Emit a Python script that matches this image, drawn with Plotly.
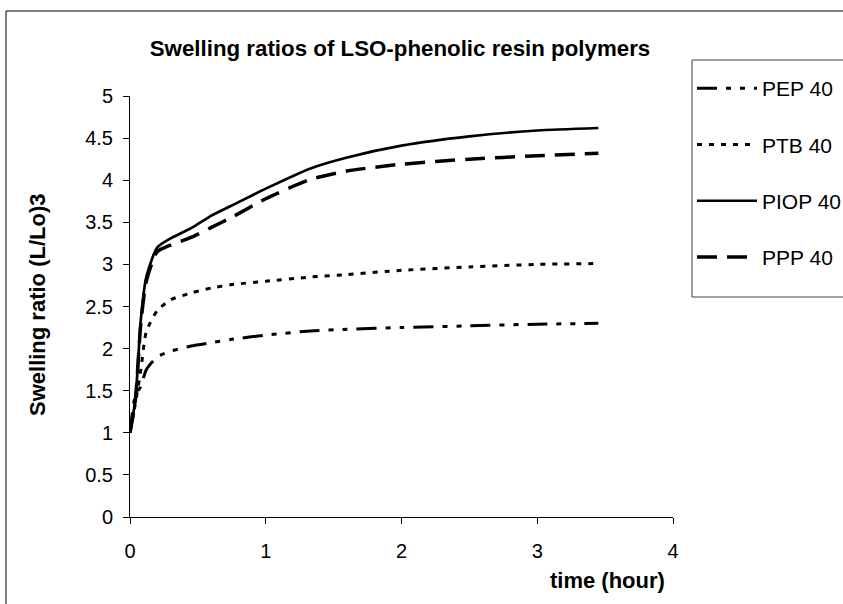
import plotly.graph_objects as go

# ---- data ----
time_h = [0, 0.04, 0.08, 0.12, 0.2, 0.3, 0.45, 0.6, 0.75, 1.0, 1.33, 1.6, 2.0, 2.5, 3.0, 3.45]
pep40 = [1.0, 1.45, 1.55, 1.75, 1.90, 1.97, 2.03, 2.07, 2.11, 2.16, 2.21, 2.23, 2.25, 2.27, 2.29, 2.30]
ptb40 = [1.0, 1.35, 1.75, 2.20, 2.45, 2.58, 2.66, 2.72, 2.76, 2.80, 2.85, 2.88, 2.93, 2.97, 3.00, 3.01]
piop40 = [1.0, 1.40, 2.35, 2.85, 3.20, 3.31, 3.43, 3.58, 3.70, 3.90, 4.14, 4.27, 4.41, 4.52, 4.59, 4.62]
ppp40 = [1.0, 1.40, 2.30, 2.80, 3.15, 3.23, 3.32, 3.44, 3.56, 3.78, 4.01, 4.11, 4.19, 4.25, 4.29, 4.32]

series_names = ["PEP 40", "PTB 40", "PIOP 40", "PPP 40"]
x_ticks = [0, 1, 2, 3, 4]
y_ticks = [0, 0.5, 1, 1.5, 2, 2.5, 3, 3.5, 4, 4.5, 5]

FONT = "Arial, Liberation Sans, sans-serif"

styles = [
    dict(dash="20px,9px,5px,9px,5px,9px", width=3),
    dict(dash="5px,7px", width=3),
    dict(dash="solid", width=2.7),
    dict(dash="20px,10px", width=3.5),
]

fig = go.Figure()
for i, (name, ys) in enumerate(zip(series_names, [pep40, ptb40, piop40, ppp40])):
    fig.add_trace(go.Scatter(
        x=time_h, y=ys, name=name, mode="lines",
        line=dict(color="black", shape="spline", smoothing=0.6, **styles[i]),
        legendgroup=name,
    ))

fig.update_layout(
    width=843, height=604,
    margin=dict(l=130, r=170, t=96, b=87, autoexpand=False),
    paper_bgcolor="white", plot_bgcolor="white",
    font=dict(family=FONT, size=20, color="black"),
    title=dict(text="Swelling ratios of LSO-phenolic resin polymers",
               font=dict(family=FONT, size=22.3, color="black", weight="bold"),
               x=0.4745, xref="container", xanchor="center",
               y=1 - 48 / 604, yref="container", yanchor="middle"),
    showlegend=True,
    legend=dict(x=1.035, y=1.0665, xanchor="left", yanchor="top",
                font=dict(family=FONT, size=21, color="black"),
                bgcolor="rgba(0,0,0,0)", borderwidth=0,
                tracegroupgap=26, itemwidth=60),
    xaxis=dict(range=[0, 4], tickvals=x_ticks, showgrid=False, zeroline=False,
               showline=True, linecolor="black", linewidth=1,
               ticks="outside", ticklen=6, tickcolor="black",
               ticklabelstandoff=10, tickfont=dict(size=20)),
    yaxis=dict(range=[0, 5], tickvals=y_ticks, showgrid=False, zeroline=False,
               showline=True, linecolor="black", linewidth=1,
               ticks="outside", ticklen=6, tickcolor="black",
               ticklabelstandoff=6, tickfont=dict(size=20)),
    annotations=[
        dict(text="<b>Swelling ratio (L/Lo)3</b>", x=(38 - 130) / 543, y=0.5036,
             xref="paper", yref="paper", xanchor="center", yanchor="middle",
             textangle=-90, showarrow=False,
             font=dict(family=FONT, size=22, color="black")),
        dict(text="<b>time (hour)</b>", x=(607 - 130) / 543, y=(517 - 580) / 421,
             xref="paper", yref="paper", xanchor="center", yanchor="middle",
             showarrow=False,
             font=dict(family=FONT, size=22, color="black")),
    ],
    shapes=[
        dict(type="rect", xref="paper", yref="paper",
             x0=(6 - 130) / 543, x1=1.6, y0=-0.6, y1=(517 - 11) / 421,
             line=dict(color="black", width=1), fillcolor="rgba(0,0,0,0)", layer="below"),
        dict(type="rect", xref="paper", yref="paper",
             x0=(692 - 130) / 543, x1=1.6, y0=(517 - 297) / 421, y1=(517 - 60) / 421,
             line=dict(color="#404040", width=1), fillcolor="rgba(0,0,0,0)"),
    ],
)

fig.write_html("out.html", config={"displayModeBar": False},
               post_script="document.body.style.margin='0';document.body.style.overflow='hidden';")
